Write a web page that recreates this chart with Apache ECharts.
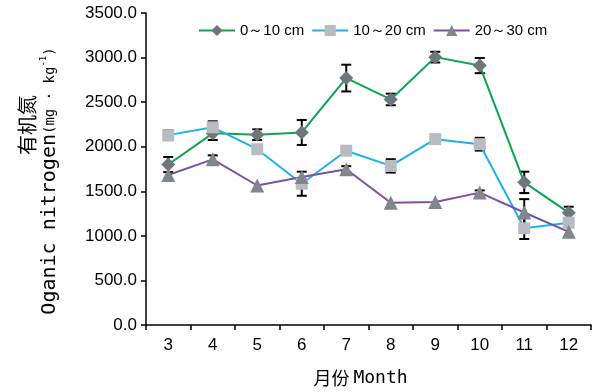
<!DOCTYPE html>
<html><head><meta charset="utf-8">
<script src="https://cdn.jsdelivr.net/npm/echarts@6/dist/echarts.min.js"></script>
<style>html,body{margin:0;padding:0;background:#fff}#c{width:597px;height:392px}</style>
</head><body><div id="c"></div>
<script>
const months = ['3', '4', '5', '6', '7', '8', '9', '10', '11', '12'];
const seriesNames = ['0～10 cm', '10～20 cm', '20～30 cm'];
const depth0_10 = [1800, 2150, 2135, 2160, 2770, 2530, 3005, 2910, 1600, 1260];
const depth0_10Err = [85, 75, 60, 140, 150, 65, 60, 85, 120, 67];
const depth10_20 = [2130, 2218, 1972, 1585, 1955, 1785, 2085, 2028, 1085, 1148];
const depth10_20Err = [56, 67, 0, 135, 25, 75, 0, 72, 120, 0];
const depth20_30 = [1683, 1858, 1565, 1660, 1747, 1372, 1380, 1485, 1262, 1045];
const depth20_30Err = [0, 45, 0, 0, 35, 0, 0, 25, 150, 0];
const yMin = 0, yMax = 3500, yStep = 500;

const CJK = '"Noto Sans CJK SC", sans-serif';
const MONO = '"DejaVu Sans Mono", monospace';
const SANS = '"Liberation Sans", Arial, sans-serif';

function errData(vals, errs) {
  return vals.map((v, i) => [i, v - errs[i], v + errs[i], errs[i]]);
}
function renderErr(params, api) {
  if (!api.value(3)) return null;
  const i = api.value(0);
  const lo = api.coord([i, api.value(1)]);
  const hi = api.coord([i, api.value(2)]);
  const w = 5;
  const st = { stroke: '#000', lineWidth: 2 };
  return {
    type: 'group',
    children: [
      { type: 'line', shape: { x1: lo[0], y1: lo[1], x2: hi[0], y2: hi[1] }, style: st },
      { type: 'line', shape: { x1: lo[0] - w, y1: lo[1], x2: lo[0] + w, y2: lo[1] }, style: st },
      { type: 'line', shape: { x1: hi[0] - w, y1: hi[1], x2: hi[0] + w, y2: hi[1] }, style: st }
    ]
  };
}

const lineColors = ['#0AA550', '#1EB1EC', '#7B52A3'];
const markColors = ['#6F767B', '#B8BCC1', '#80868B'];
const symbols = ['diamond', 'rect', 'triangle'];
const symSizes = [14, 12, 14];
const vals = [depth0_10, depth10_20, depth20_30];
const errs = [depth0_10Err, depth10_20Err, depth20_30Err];

const series = [];
for (let k = 0; k < 3; k++) {
  series.push({
    type: 'custom', name: seriesNames[k] + ' err', renderItem: renderErr,
    data: errData(vals[k], errs[k]), z: 1, silent: true
  });
}
for (let k = 0; k < 3; k++) {
  series.push({
    type: 'line', name: seriesNames[k], data: vals[k], z: 5,
    symbol: symbols[k], symbolSize: symSizes[k],
    lineStyle: { color: lineColors[k], width: 2 },
    itemStyle: { color: markColors[k], borderWidth: 0 },
    color: lineColors[k]
  });
}

const chart = echarts.init(document.getElementById('c'));
chart.setOption({
  animation: false,
  backgroundColor: '#fff',
  grid: { left: 146, right: 6, top: 13, bottom: 67 },
  legend: {
    data: seriesNames.map((n, k) => ({ name: n, itemStyle: { color: markColors[k] }, lineStyle: { color: lineColors[k], width: 2 } })),
    top: 18, left: 193, itemWidth: 36, itemHeight: 14, itemGap: 7,
    textStyle: { fontFamily: SANS, fontSize: 15, color: '#000' }
  },
  xAxis: {
    type: 'category', data: months, boundaryGap: true,
    axisLine: { lineStyle: { color: '#000', width: 1.5 } },
    axisTick: { show: true, alignWithLabel: false, length: 5, lineStyle: { color: '#000', width: 1.5 } },
    axisLabel: { fontFamily: SANS, fontSize: 17, color: '#000', margin: 12 },
    name: '{c|月份 }{m|Month}', nameLocation: 'middle', nameGap: 44,
    nameTextStyle: { padding: [0, 16, 0, 0], rich: {
      c: { fontFamily: CJK, fontSize: 18, color: '#000' },
      m: { fontFamily: MONO, fontSize: 18, color: '#000' } } }
  },
  yAxis: {
    type: 'value', min: yMin, max: yMax, interval: yStep,
    axisLine: { show: true, lineStyle: { color: '#000', width: 1.5 } },
    axisTick: { show: true, length: 5, lineStyle: { color: '#000', width: 1.5 } },
    splitLine: { show: false },
    axisLabel: { formatter: v => v.toFixed(1), fontFamily: SANS, fontSize: 17, color: '#000', margin: 9 },
    name: '{z|有机氮}\n{n|Oganic nitrogen}{u|(mg · kg}{s|-1}{u|)}',
    nameLocation: 'middle', nameRotate: 90, nameGap: 85,
    nameTextStyle: { padding: [0, 24, 0, 0], rich: {
      z: { fontFamily: CJK, fontSize: 20, color: '#000', lineHeight: 24, padding: [0, 0, 0, 112] },
      n: { fontFamily: MONO, fontSize: 20, color: '#000', lineHeight: 22 },
      u: { fontFamily: MONO, fontSize: 14, color: '#000', lineHeight: 22 },
      s: { fontFamily: MONO, fontSize: 9, color: '#000', lineHeight: 22, verticalAlign: 'top' } } }
  },
  series: series
});
</script></body></html>
